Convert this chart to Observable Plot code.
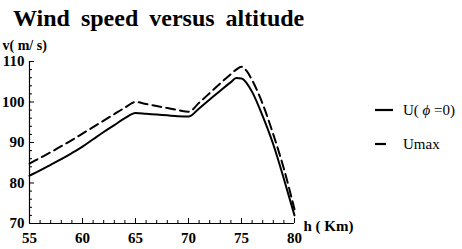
<!DOCTYPE html>
<html><head><meta charset="utf-8">
<script src="https://cdn.jsdelivr.net/npm/d3@7"></script>
<script src="https://cdn.jsdelivr.net/npm/@observablehq/plot@0.6"></script>
<style>
body{margin:0;background:#fff;}
#wrap{position:relative;width:462px;height:249px;font-family:"Liberation Serif","DejaVu Serif",serif;}
#title{height:33px;font-size:24px;font-weight:bold;padding-left:13px;line-height:36px;word-spacing:5px;box-sizing:border-box;}
#legend{position:absolute;left:375px;top:100px;font-size:15px;color:#000;}
.row{display:flex;align-items:center;height:34px;}
.row svg{margin-right:10px;}
</style></head>
<body><div id="wrap"><div id="title">Wind speed versus altitude</div><div id="chart"></div>
<div id="legend">
 <div class="row" style="height:20px"><svg width="18" height="4"><line x1="0" x2="18" y1="2" y2="2" stroke="#000" stroke-width="2.2"/></svg><span>U( <i>ϕ</i> =0)</span></div>
 <div class="row" style="height:48px"><svg width="18" height="4"><line x1="0" x2="11" y1="2" y2="2" stroke="#000" stroke-width="2.2"/></svg><span>Umax</span></div>
</div></div>
<script>
const altitude = [55,56,57,58,59,60,61,62,63,64,65,66,67,68,69,70,71,72,73,74,74.5,75,75.5,76,77,78,79,80];
const uPhi0   = [81.8,83.1,84.5,85.9,87.4,89.0,90.8,92.6,94.3,96.0,97.3,97.1,96.9,96.7,96.5,96.4,98.4,100.6,102.8,104.9,105.9,105.8,104.6,102.5,96.5,89.5,81.0,72.0];
const uMax    = [84.8,86.2,87.6,89.1,90.6,92.2,93.8,95.4,97.0,98.6,100.0,99.5,99.0,98.5,98.0,97.6,99.8,102.2,104.6,106.9,108.0,108.7,107.6,105.4,99.5,92.0,83.5,73.5];
const xMajor = [55,60,65,70,75,80];
const xMinor = d3.range(55,81,1).filter(v=>v%5!==0);
const yMajor = [70,80,90,100,110];
const yMinor = d3.range(70,111,2).filter(v=>v%10!==0);

const solid = altitude.map((h,i)=>({h, v:uPhi0[i]}));
const dashed = altitude.map((h,i)=>({h, v:uMax[i]}));
const H = 216, mt = 28, mb = 26, ml = 29, mr = 168;
const ih = H - mt - mb, iw = 462 - ml - mr;
const font = {fontFamily:"Liberation Serif", fontWeight:"bold", fontSize:15};

const chart = Plot.plot({
  width:462, height:H, marginTop:mt, marginBottom:mb, marginLeft:ml, marginRight:mr,
  style:{fontFamily:"Liberation Serif", color:"#000", background:"#fff"},
  x:{domain:[55,80]}, y:{domain:[70,110]},
  marks:[
    Plot.axisX({ticks:xMajor, tickSize:0, tickPadding:9, label:null, ...font}),
    Plot.axisY({ticks:yMajor, tickSize:0, tickPadding:5, label:null, ...font}),
    Plot.tickX(xMajor,{x:d=>d, insetTop:ih-5, stroke:"#000", strokeWidth:1}),
    Plot.tickX(xMinor,{x:d=>d, insetTop:ih-3, stroke:"#000", strokeWidth:1}),
    Plot.tickY(yMajor,{y:d=>d, insetRight:iw-5, stroke:"#000", strokeWidth:1}),
    Plot.tickY(yMinor,{y:d=>d, insetRight:iw-3, stroke:"#000", strokeWidth:1}),
    Plot.ruleY([70],{stroke:"#000", strokeWidth:1.2}),
    Plot.ruleX([55],{stroke:"#000", strokeWidth:1.2}),
    Plot.line(dashed,{x:"h", y:"v", stroke:"#000", strokeWidth:2, strokeDasharray:"9,5", curve:"monotone-x"}),
    Plot.line(solid,{x:"h", y:"v", stroke:"#000", strokeWidth:2, curve:"monotone-x"}),
    Plot.text(["v( m/ s)"],{frameAnchor:"top-left", dx:-27, dy:-12, textAnchor:"start", lineAnchor:"bottom", fontSize:14, fontWeight:"bold", letterSpacing:1}),
    Plot.text(["h ( Km)"],{frameAnchor:"bottom-right", dx:9, dy:7, textAnchor:"start", lineAnchor:"bottom", fontSize:15, fontWeight:"bold"})
  ]
});
document.getElementById("chart").appendChild(chart);
</script></body></html>
